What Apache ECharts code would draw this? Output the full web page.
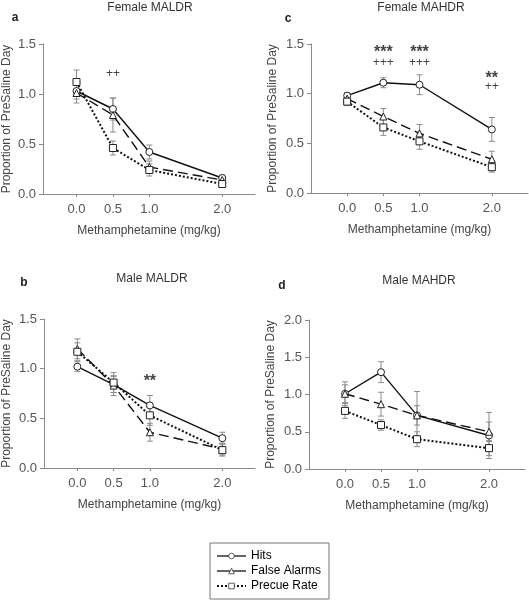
<!DOCTYPE html>
<html><head><meta charset="utf-8">
<script src="https://cdn.jsdelivr.net/npm/echarts@6/dist/echarts.min.js"></script>
<style>html,body{margin:0;padding:0;background:#fff}#c{width:529px;height:600px}</style>
</head><body><div id="c"></div>
<script>
// ---------- data ----------
const doses = [0, 0.5, 1.0, 2.0];
const seriesNames = ['Hits', 'False Alarms', 'Precue Rate'];
const panelTitles = ['Female MALDR', 'Female MAHDR', 'Male MALDR', 'Male MAHDR'];
const panelLetters = ['a', 'c', 'b', 'd'];
const yMaxes = [1.5, 1.5, 1.5, 2.0];

// Female MALDR (a)
const hitsFMALDR = [1.03, 0.85, 0.42, 0.16];
const hitsFMALDRse = [0.08, 0.11, 0.07, 0.03];
const faFMALDR = [1.01, 0.79, 0.27, 0.14];
const faFMALDRse = [0.10, 0.17, 0.06, 0.03];
const pcFMALDR = [1.12, 0.46, 0.24, 0.10];
const pcFMALDRse = [0.12, 0.07, 0.06, 0.03];

// Female MAHDR (c)
const hitsFMAHDR = [0.98, 1.11, 1.09, 0.64];
const hitsFMAHDRse = [0.03, 0.05, 0.10, 0.12];
const faFMAHDR = [0.95, 0.77, 0.60, 0.34];
const faFMAHDRse = [0.04, 0.08, 0.09, 0.08];
const pcFMAHDR = [0.92, 0.66, 0.52, 0.26];
const pcFMAHDRse = [0.04, 0.08, 0.08, 0.05];

// Male MALDR (b)
const hitsMMALDR = [1.02, 0.84, 0.63, 0.30];
const hitsMMALDRse = [0.05, 0.08, 0.10, 0.06];
const faMMALDR = [1.20, 0.83, 0.36, 0.19];
const faMMALDRse = [0.10, 0.10, 0.09, 0.06];
const pcMMALDR = [1.17, 0.86, 0.53, 0.18];
const pcMMALDRse = [0.09, 0.10, 0.10, 0.06];

// Male MAHDR (d)
const hitsMMAHDR = [1.01, 1.30, 0.72, 0.45];
const hitsMMAHDRse = [0.16, 0.14, 0.32, 0.31];
const faMMAHDR = [1.01, 0.87, 0.72, 0.50];
const faMMAHDRse = [0.12, 0.16, 0.13, 0.13];
const pcMMAHDR = [0.78, 0.59, 0.40, 0.28];
const pcMMAHDRse = [0.10, 0.07, 0.10, 0.10];

// significance annotations
const annPanel = [0, 1, 1, 1, 1, 1, 1, 2];
const annX = [0.5, 0.5, 0.5, 1.0, 1.0, 2.0, 2.0, 1.0];
const annY = [1.20, 1.41, 1.31, 1.41, 1.31, 1.15, 1.07, 0.87];
const annText = ['++', '***', '+++', '***', '+++', '**', '++', '**'];

// ---------- layout ----------
const FONT = '"Liberation Sans", Arial, sans-serif';
const grids = [
  { left: 43, top: 44, width: 212, height: 150, xmin: -0.46, xmax: 2.45 },
  { left: 311, top: 44, width: 217, height: 149, xmin: -0.5, xmax: 2.5 },
  { left: 43, top: 319, width: 212, height: 149, xmin: -0.46, xmax: 2.45 },
  { left: 309, top: 320, width: 216, height: 149, xmin: -0.5, xmax: 2.5 }
];
const titlePos = [[150, 8], [421, 8], [152, 279], [419, 281]];
const letterPos = [[15, 18], [288, 19], [24, 283], [282, 286]];
const yNameGap = [30, 32, 31, 32];

const panelData = [
  [[hitsFMALDR, hitsFMALDRse], [faFMALDR, faFMALDRse], [pcFMALDR, pcFMALDRse]],
  [[hitsFMAHDR, hitsFMAHDRse], [faFMAHDR, faFMAHDRse], [pcFMAHDR, pcFMAHDRse]],
  [[hitsMMALDR, hitsMMALDRse], [faMMALDR, faMMALDRse], [pcMMALDR, pcMMALDRse]],
  [[hitsMMAHDR, hitsMMAHDRse], [faMMAHDR, faMMAHDRse], [pcMMAHDR, pcMMAHDRse]]
];

const symbols = ['circle', 'triangle', 'rect'];
const lineTypes = ['solid', [10, 5], [2, 2]];
const lineWidths = [1.4, 1.4, 2];
const AX = '#8a8a8a';

const xAxes = [], yAxes = [], gridOpts = [], series = [], graphics = [];
grids.forEach((g, i) => {
  gridOpts.push({ left: g.left, top: g.top, width: g.width, height: g.height });
  xAxes.push({
    type: 'value', gridIndex: i, min: g.xmin, max: g.xmax,
    name: 'Methamphetamine (mg/kg)', nameLocation: 'middle', nameGap: 31,
    nameTextStyle: { fontFamily: FONT, fontSize: 12, color: '#444' },
    axisLine: { show: true, onZero: false, lineStyle: { color: AX, width: 1 } },
    axisTick: { show: true, length: 3, customValues: doses, lineStyle: { color: AX } },
    axisLabel: { customValues: doses, margin: 9, fontFamily: FONT, fontSize: 13, color: '#555',
      formatter: v => v.toFixed(1) },
    splitLine: { show: false }
  });
  yAxes.push({
    type: 'value', gridIndex: i, min: 0, max: yMaxes[i], interval: 0.5,
    name: 'Proportion of PreSaline Day', nameLocation: 'middle', nameGap: yNameGap[i],
    nameTextStyle: { fontFamily: FONT, fontSize: 12, color: '#444' },
    axisLine: { show: true, onZero: false, lineStyle: { color: AX, width: 1 } },
    axisTick: { show: true, length: 4, lineStyle: { color: AX } },
    axisLabel: { margin: 7, fontFamily: FONT, fontSize: 13, color: '#555',
      formatter: v => v.toFixed(1) },
    splitLine: { show: false }
  });
  graphics.push({
    type: 'text', x: titlePos[i][0], y: titlePos[i][1],
    style: { text: panelTitles[i], fontFamily: FONT, fontSize: 12, fill: '#333', align: 'center', verticalAlign: 'middle' }
  });
  graphics.push({
    type: 'text', x: letterPos[i][0], y: letterPos[i][1],
    style: { text: panelLetters[i], fontFamily: FONT, fontSize: 12, fontWeight: 'bold', fill: '#222', align: 'center', verticalAlign: 'middle' }
  });

  panelData[i].forEach((pair, k) => {
    const [means, ses] = pair;
    series.push({
      type: 'custom', xAxisIndex: i, yAxisIndex: i, z: 1, silent: true,
      name: seriesNames[k] + ' SE',
      data: doses.map((d, j) => [d, means[j], ses[j]]),
      encode: { x: 0, y: 1 },
      clip: false,
      renderItem: (params, api) => {
        const x = api.value(0), m = api.value(1), s = api.value(2);
        const top = api.coord([x, m + s]);
        const bot = api.coord([x, m - s]);
        const st = { stroke: '#8c8c8c', lineWidth: 1 };
        return {
          type: 'group', children: [
            { type: 'line', shape: { x1: top[0], y1: top[1], x2: bot[0], y2: bot[1] }, style: st },
            { type: 'line', shape: { x1: top[0] - 3, y1: top[1], x2: top[0] + 3, y2: top[1] }, style: st },
            { type: 'line', shape: { x1: bot[0] - 3, y1: bot[1], x2: bot[0] + 3, y2: bot[1] }, style: st }
          ]
        };
      }
    });
  });
  panelData[i].forEach((pair, k) => {
    const [means] = pair;
    series.push({
      type: 'line', name: seriesNames[k], xAxisIndex: i, yAxisIndex: i, z: 3 + k,
      data: doses.map((d, j) => [d, means[j]]),
      symbol: symbols[k], symbolSize: 7, showAllSymbol: true,
      lineStyle: { color: '#111', width: lineWidths[k], type: lineTypes[k] },
      itemStyle: { color: '#fff', borderColor: '#222', borderWidth: 1 },
      emphasis: { disabled: true }, animation: false
    });
  });
  const idx = [];
  annPanel.forEach((p, j) => { if (p === i) idx.push(j); });
  if (idx.length) {
    series.push({
      type: 'scatter', xAxisIndex: i, yAxisIndex: i, z: 6, symbolSize: 0, silent: true,
      data: idx.map(j => {
        const star = annText[j].indexOf('*') >= 0;
        return {
          value: [annX[j], annY[j]], name: annText[j],
          label: { fontSize: star ? 16 : 12, fontWeight: star ? 'bold' : 'normal' }
        };
      }),
      label: {
        show: true, position: 'inside', formatter: p => p.name,
        fontFamily: FONT, color: '#111'
      }
    });
  }
});

const chart = echarts.init(document.getElementById('c'), null, { renderer: 'canvas' });
chart.setOption({
  animation: false,
  backgroundColor: '#fff',
  grid: gridOpts,
  xAxis: xAxes,
  yAxis: yAxes,
  series: series,
  graphic: graphics,
  legend: {
    left: 210, top: 543, orient: 'vertical',
    padding: [7, 8, 7, 6], itemGap: 3, itemWidth: 29, itemHeight: 7,
    borderColor: '#777', borderWidth: 1, borderRadius: 0,
    textStyle: { fontFamily: FONT, fontSize: 12, color: '#000' },
    itemStyle: { borderWidth: 0.8, color: '#fff', borderColor: '#333' },
    lineStyle: { width: 1.3 },
    data: [
      { name: 'Hits', lineStyle: { type: 'solid', width: 1.3 } },
      { name: 'False Alarms', lineStyle: { type: 'solid', width: 1.3 } },
      { name: 'Precue Rate', lineStyle: { type: [2, 2], width: 2 } }
    ],
    selectedMode: false
  }
});
</script></body></html>
